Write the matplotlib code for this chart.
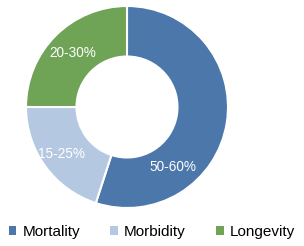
import numpy as np
import matplotlib as mpl
mpl.use("Agg")
import matplotlib.pyplot as plt

categories = ["Mortality", "Morbidity", "Longevity"]
shares = [55, 20, 25]
labels = ["50-60%", "15-25%", "20-30%"]
colors = ["#4b77aa", "#b5c8e1", "#6fa356"]
label_angles = [143, None, None]  # clockwise degrees from 12 o'clock; None -> middle of slice

plt.rcParams['font.family'] = ['Liberation Sans', 'DejaVu Sans']

fig = plt.figure(figsize=(3.04, 2.46), dpi=100)
ax = fig.add_axes([26 / 304, 38 / 246, 202 / 304, 202 / 246])

wedges, _ = ax.pie(shares, colors=colors, startangle=90, counterclock=False,
                   radius=1.0, wedgeprops=dict(width=0.5, edgecolor="white", linewidth=1.5))
ax.set_xlim(-1, 1)
ax.set_ylim(-1, 1)
ax.set_aspect("equal")
ax.axis("off")

cum = np.cumsum([0] + shares) / sum(shares) * 360
radii = [0.75, 0.8, 0.76]
for i, lab in enumerate(labels):
    ang = label_angles[i] if label_angles[i] is not None else (cum[i] + cum[i + 1]) / 2
    x = radii[i] * np.sin(np.radians(ang))
    y = radii[i] * np.cos(np.radians(ang))
    ax.text(x, y, lab, color="white", fontsize=9.8, ha="center", va="center")

handles = [mpl.patches.Patch(facecolor=c) for c in colors]
fig.legend(handles, categories, loc="center", bbox_to_anchor=(0.5, 0.057), ncol=3,
           frameon=False, fontsize=11, handlelength=0.5, handleheight=0.5,
           handletextpad=0.4, columnspacing=2.0)

fig.savefig("out.png", dpi=100)
